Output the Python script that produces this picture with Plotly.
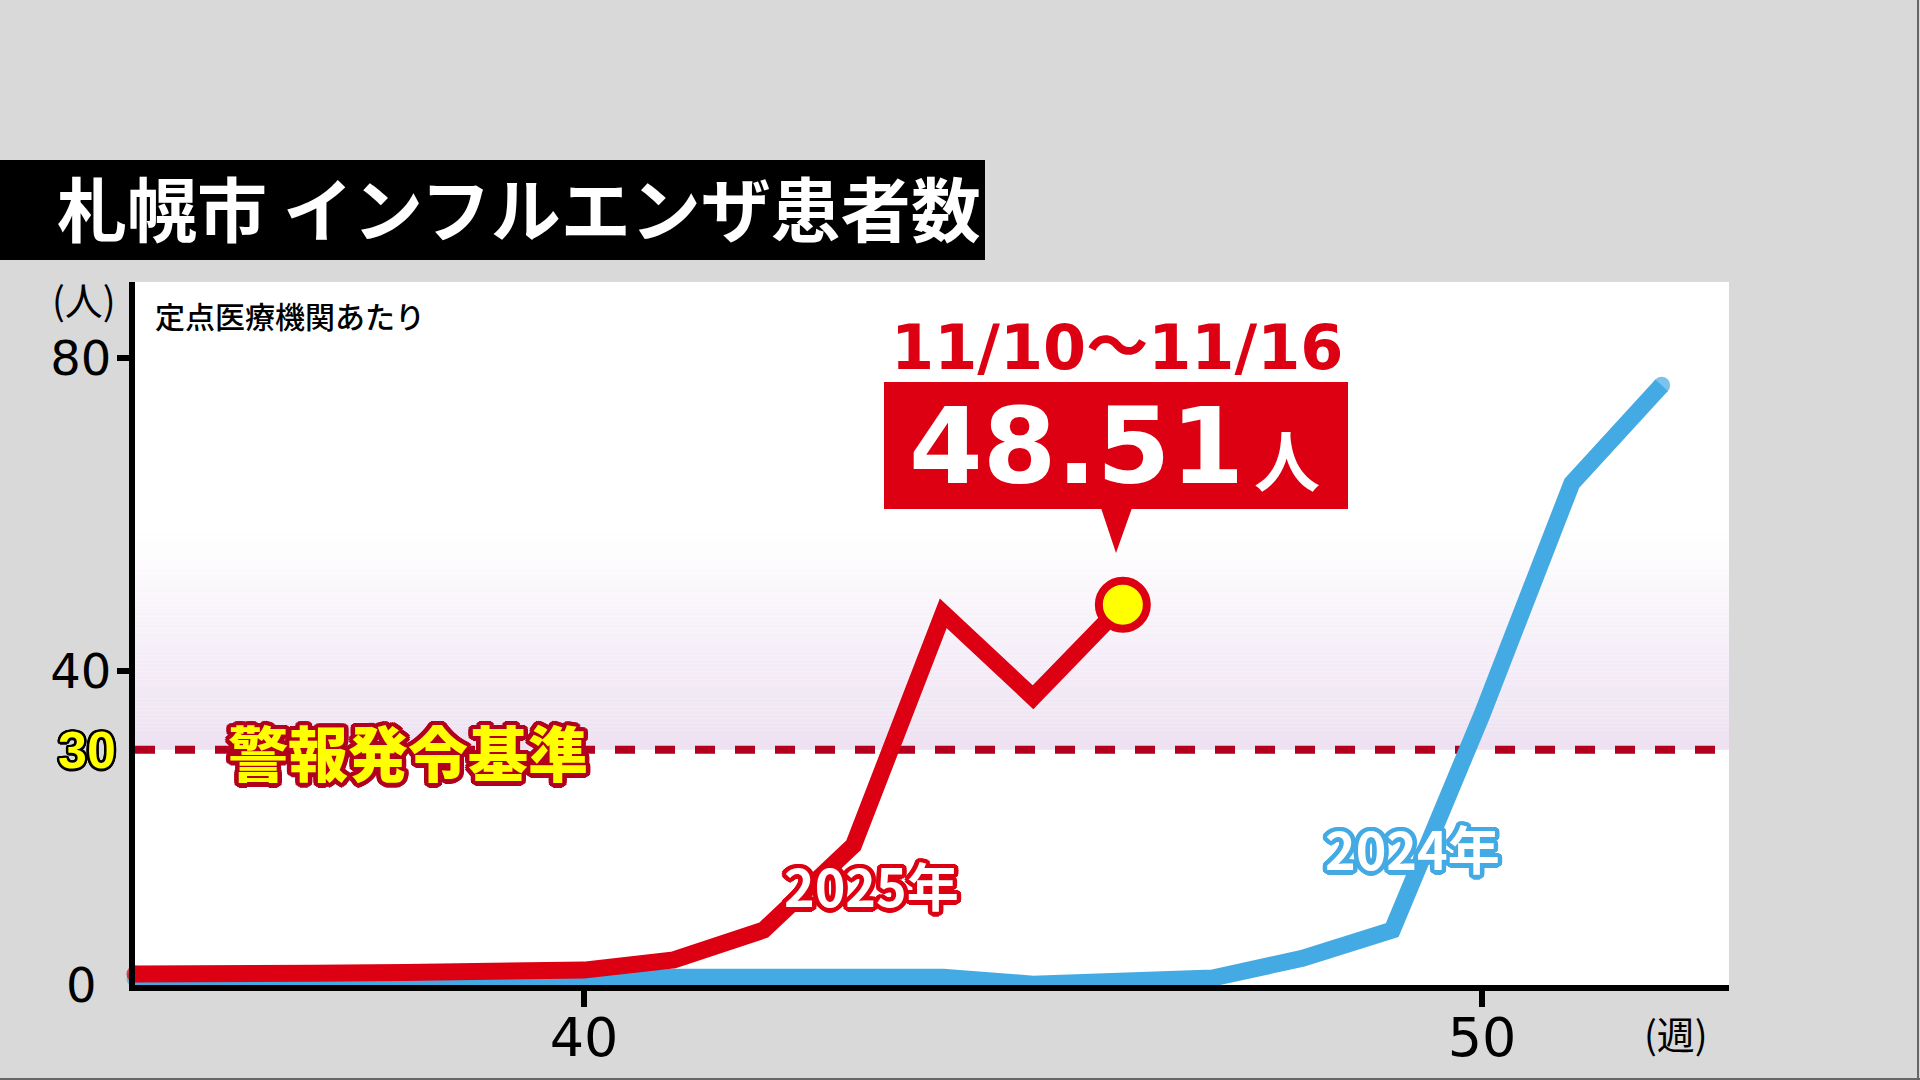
import math
import plotly.graph_objects as go

# ---------------- data ----------------
weeks = list(range(35, 53))
cases_2025 = [1.4, 1.2, 1.5, 1.6, 1.7, 1.9, 3.2, 7.0, 17.8, 47.4, 36.7, 48.51]
cases_2024 = [0.8, 0.7, 0.7, 0.6, 0.5, 0.5, 1.0, 1.0, 1.3, 1.0, 0.1, 0.3, 0.9, 3.4, 7.0, 34.5, 64.0, 76.5]
alert_level = 30
x_ticks = [40, 50]
y_ticks = [40, 80]

title_text = "札幌市 インフルエンザ患者数"
unit_y = "(人)"
unit_x = "(週)"
note_text = "定点医療機関あたり"
alert_text = "警報発令基準"
label_2025 = "2025年"
label_2024 = "2024年"
callout_date = "11/10～11/16"
callout_value = "48.51"
callout_unit = "人"

# ---------------- styling ----------------
W, H = 1920, 1080
BG = "#d9d9d9"
RED = "rgb(220,0,18)"
DARK_RED = "rgb(178,0,30)"
BLUE = "rgb(68,170,228)"
YELLOW = "#ffff00"
JP = "Noto Sans CJK JP"
NUM = "DejaVu Sans"
BIG = "DejaVu Sans, Noto Sans CJK JP"


def px(x):
    return x / W


def py(y):
    return 1 - y / H


def outline(color, r):
    parts = []
    n = 16
    for i in range(n):
        a = 2 * math.pi * i / n
        parts.append(f"{r*math.cos(a):.1f}px {r*math.sin(a):.1f}px 0 {color}")
    return ", ".join(parts)


X_L, X_R = 135, 1729
Y_B, Y_T = 985, 282

fig = go.Figure()


def caps(n, w):
    s = [0] * n
    s[0] = w
    s[-1] = w
    return s


LW = 17
fig.add_trace(go.Scatter(
    x=weeks[:len(cases_2024)], y=cases_2024, mode="lines+markers",
    line=dict(color=BLUE, width=LW),
    marker=dict(color=BLUE, size=caps(len(cases_2024), LW), line=dict(width=0)),
    cliponaxis=False, hoverinfo="skip"))
fig.add_trace(go.Scatter(
    x=weeks[:len(cases_2025)], y=cases_2025, mode="lines+markers",
    line=dict(color=RED, width=LW),
    marker=dict(color=RED, size=caps(len(cases_2025), LW), line=dict(width=0)),
    cliponaxis=False, hoverinfo="skip"))
# highlighted latest point
fig.add_trace(go.Scatter(
    x=[weeks[len(cases_2025) - 1]], y=[cases_2025[-1]], mode="markers",
    marker=dict(color=YELLOW, size=48, line=dict(color=RED, width=8)),
    cliponaxis=False, hoverinfo="skip"))

shapes = []
# gradient band above alert line
g_top = 58.0
n_strips = 56
c0 = (237, 225, 242)
for i in range(n_strips):
    y0 = alert_level + (g_top - alert_level) * i / n_strips
    y1 = alert_level + (g_top - alert_level) * (i + 1) / n_strips
    t = (i + 0.5) / n_strips
    c = tuple(round(c0[k] + (255 - c0[k]) * t) for k in range(3))
    shapes.append(dict(type="rect", xref="paper", yref="y",
                       x0=px(X_L), x1=px(X_R), y0=y0, y1=y1,
                       fillcolor=f"rgb{c}", line=dict(width=0), layer="below"))
# alert dashed line
shapes.append(dict(type="line", xref="paper", yref="y",
                   x0=px(X_L), x1=px(X_R), y0=alert_level, y1=alert_level,
                   line=dict(color=DARK_RED, width=8, dash="20px,20px"), layer="below"))
# title bar
shapes.append(dict(type="rect", xref="paper", yref="paper",
                   x0=0, x1=px(985), y0=py(260), y1=py(160),
                   fillcolor="black", line=dict(width=0)))
# callout box + pointer
shapes.append(dict(type="rect", xref="paper", yref="paper",
                   x0=px(884), x1=px(1348), y0=py(509), y1=py(382),
                   fillcolor=RED, line=dict(width=0)))
shapes.append(dict(type="path", xref="paper", yref="paper",
                   path=f"M {px(1101)},{py(508)} L {px(1132)},{py(508)} L {px(1116)},{py(553)} Z",
                   fillcolor=RED, line=dict(width=0)))
# frame lines right/bottom
shapes.append(dict(type="line", xref="paper", yref="paper",
                   x0=px(1918), x1=px(1918), y0=0, y1=1,
                   line=dict(color="#666666", width=2)))
shapes.append(dict(type="line", xref="paper", yref="paper",
                   x0=0, x1=1, y0=py(1079), y1=py(1079),
                   line=dict(color="#666666", width=2)))

ann = []


def A(text, x, y, size, color, family=JP, weight="normal", shadow=None,
      xanchor="center", yanchor="middle", xref="paper", yref="paper"):
    f = dict(family=family, size=size, color=color, weight=weight)
    if shadow:
        f["shadow"] = shadow
    ann.append(dict(text=text, x=x, y=y, xref=xref, yref=yref, showarrow=False,
                    xanchor=xanchor, yanchor=yanchor, font=f))


A(title_text, px(55), py(207), 70, "white", weight="bold", xanchor="left")
A(unit_y, px(84), py(298), 38, "black")
A(note_text, px(153), py(315), 30, "black", weight=500, xanchor="left")
A("0", px(81), 0, 48, "black", family=NUM, yref="y")
A(str(alert_level), px(87), alert_level, 52, YELLOW, family="Liberation Sans",
  weight="bold", shadow=outline("black", 2.5), yref="y")
A(alert_text, px(408), py(750), 60, YELLOW, weight=900, shadow=outline(DARK_RED, 4.5))
A(label_2025, px(871), py(884), 52, "white", weight="bold", shadow=outline(RED, 4.5))
A(label_2024, px(1412), py(847), 52, "white", weight="bold", shadow=outline(BLUE, 4.5))
A(callout_date, px(1117), py(347), 62, RED, family=BIG, weight="bold")
A(callout_value, px(1076), py(447), 106, "white", family=BIG, weight="bold")
A(callout_unit, px(1287), py(457), 66, "white", weight="bold")
A(unit_x, px(1676), py(1032), 38, "black")

fig.update_layout(
    width=W, height=H, autosize=False,
    margin=dict(l=0, r=0, t=0, b=0, pad=0),
    paper_bgcolor=BG, plot_bgcolor="white",
    showlegend=False,
    shapes=shapes, annotations=ann,
    xaxis=dict(domain=[px(X_L), px(X_R)], range=[35, 52.75],
               showline=True, linecolor="black", linewidth=6,
               ticks="outside", ticklen=16, tickwidth=6, tickcolor="black",
               tickvals=x_ticks, ticktext=[str(v) for v in x_ticks],
               tickfont=dict(family=NUM, size=54, color="black"),
               ticklabelstandoff=-16,
               showgrid=False, zeroline=False, fixedrange=True),
    yaxis=dict(domain=[py(Y_B), py(Y_T)], range=[0, (Y_B - Y_T) / 7.84],
               showline=True, linecolor="black", linewidth=6,
               ticks="outside", ticklen=12, tickwidth=6, tickcolor="black",
               tickvals=y_ticks, ticktext=[str(v) for v in y_ticks],
               tickfont=dict(family=NUM, size=48, color="black"),
               ticklabelstandoff=-4,
               showgrid=False, zeroline=False, fixedrange=True),
)

fig.write_html(
    "out.html",
    config={"displayModeBar": False},
    post_script="document.body.style.margin='0';document.body.style.overflow='hidden';",
)
